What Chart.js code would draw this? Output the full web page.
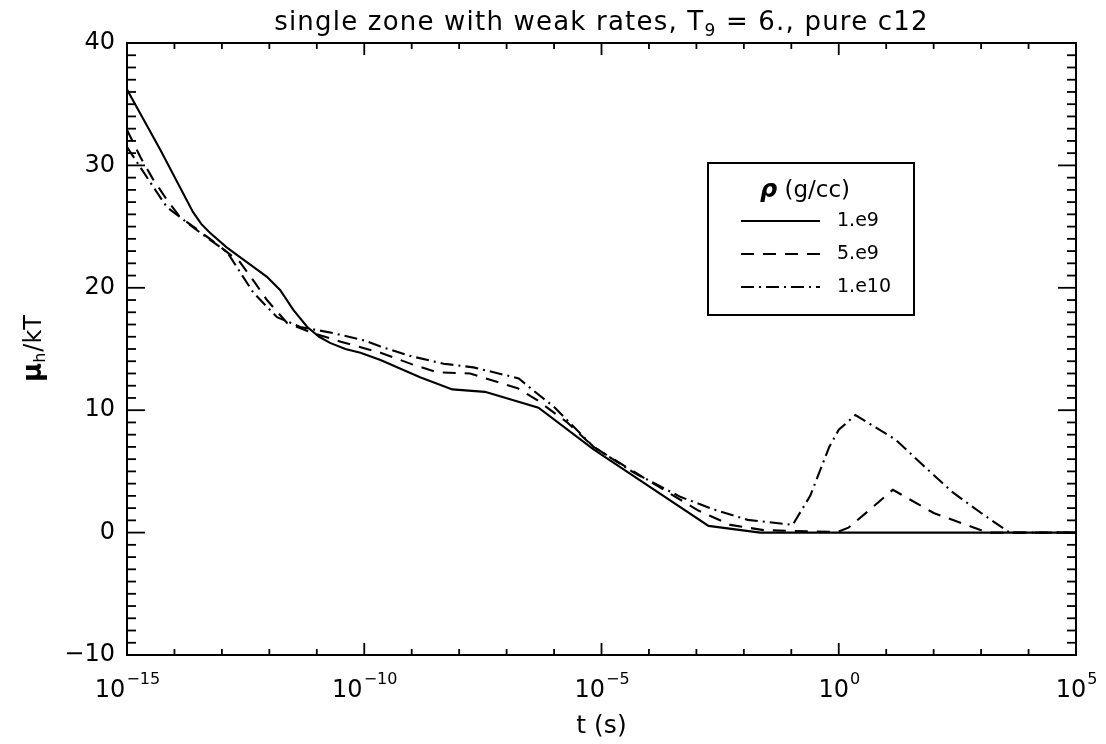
<!DOCTYPE html>
<html>
<head>
<meta charset="utf-8">
<script src="https://cdn.jsdelivr.net/npm/chart.js"></script>
<style>
  html, body { margin: 0; padding: 0; background: #fff; }
</style>
</head>
<body>
<canvas id="myChart" width="1106" height="744"></canvas>
<script>
// values: time (s) and mu_h/kT for each density
const tSolid = [1e-15, 5e-15, 2.45e-14, 3.7e-14, 5.6e-14, 1.26e-13, 2.4e-13, 5e-13, 8.9e-13, 1.7e-12, 3.2e-12, 6.3e-12, 1.12e-11, 1.9e-11, 4e-11, 8.3e-11, 2.2e-10, 1.5e-9, 7.2e-9, 3.5e-8, 4.7e-7, 6.8e-6, 1.8e-3, 2.2e-2, 1e5]
const muSolid = [36.2, 31.3, 26.2, 25.2, 24.5, 23.3, 22.5, 21.6, 20.9, 19.8, 18.2, 16.8, 16.0, 15.5, 15.0, 14.7, 14.1, 12.7, 11.7, 11.5, 10.2, 6.8, 0.55, 0.0, 0.0]

const tDashed = [1e-15, 1.9e-15, 3.5e-15, 6.9e-15, 1.3e-14, 5.6e-14, 2.4e-13, 5e-13, 8.9e-13, 2.4e-12, 8.3e-12, 3.2e-11, 2.2e-10, 1.1e-9, 3.5e-9, 1.7e-8, 1.7e-7, 4.5e-7, 1.9e-6, 6.8e-6, 9.3e-5, 1.1e-3, 5.2e-3, 2.6e-2, 0.95, 1.6, 4.3, 13.8, 100, 1000, 1600, 1e5]
const muDashed = [32.9, 30.7, 28.9, 27.2, 25.8, 24.0, 22.1, 20.4, 19.0, 17.1, 16.3, 15.6, 14.7, 13.7, 13.1, 13.0, 11.8, 10.8, 9.0, 7.0, 4.3, 1.8, 0.63, 0.2, 0.05, 0.4, 1.8, 3.5, 1.6, 0.2, 0.0, 0.0]

const tDashDot = [1e-15, 3.5e-15, 6.9e-15, 3.5e-14, 1.3e-13, 4.6e-13, 1.45e-12, 4.5e-12, 2.2e-11, 1e-10, 2.2e-10, 1e-9, 4.7e-9, 2e-8, 1.8e-7, 3.7e-7, 9.8e-7, 6.8e-6, 4.8e-5, 4.7e-4, 2.3e-3, 1.2e-2, 0.107, 0.25, 0.63, 1.0, 2.24, 15.8, 56, 250, 1000, 4000, 1e5]
const muDashDot = [31.5, 28.3, 26.6, 24.5, 22.9, 19.6, 17.6, 16.8, 16.3, 15.7, 15.2, 14.4, 13.8, 13.5, 12.6, 11.6, 10.3, 7.0, 4.9, 2.9, 1.9, 1.04, 0.63, 3.0, 7.0, 8.4, 9.6, 7.6, 5.6, 3.3, 1.6, 0.0, 0.0]

const seriesLabels = ['1.e9', '5.e9', '1.e10']
const seriesDash = [[], [13, 9], [13, 5, 2, 5]]

const yTicks = [-10, 0, 10, 20, 30, 40]
const xMajorExp = [-15, -10, -5, 0, 5]

const FONT = "'DejaVu Sans', sans-serif"

const toPoints = (ts, ys) => ts.map((t, i) => ({x: t, y: ys[i]}))

const line = (c, x1, y1, x2, y2) => {
    c.beginPath()
    c.moveTo(x1, y1)
    c.lineTo(x2, y2)
    c.stroke()
}

// frame, inward ticks on all four sides, exponent labels, title and legend
const framePlugin = {
    id: 'frame',
    afterDraw(chart) {
        const c = chart.ctx
        const a = chart.chartArea
        const xs = chart.scales.x
        const ys = chart.scales.y
        c.save()
        c.strokeStyle = '#000'
        c.fillStyle = '#000'
        c.lineWidth = 2
        c.setLineDash([])
        c.strokeRect(a.left, a.top, a.right - a.left, a.bottom - a.top)

        c.lineWidth = 1.8
        for (let e = -15; e <= 5; e++) {
            const px = xs.getPixelForValue(Math.pow(10, e))
            const len = xMajorExp.includes(e) ? 12 : 6
            line(c, px, a.bottom, px, a.bottom - len)
            line(c, px, a.top, px, a.top + len)
        }
        for (let v = -10; v <= 40; v++) {
            const py = ys.getPixelForValue(v)
            const len = yTicks.includes(v) ? 18 : 9
            line(c, a.left, py, a.left + len, py)
            line(c, a.right, py, a.right - len, py)
        }

        // x labels 10^n
        c.textBaseline = 'alphabetic'
        c.textAlign = 'left'
        xMajorExp.forEach(e => {
            const px = xs.getPixelForValue(Math.pow(10, e))
            const sup = String(e).replace('-', '\u2212')
            c.font = '24px ' + FONT
            const w1 = c.measureText('10').width
            c.font = '16px ' + FONT
            const w2 = c.measureText(sup).width
            const x0 = px - (w1 + w2) / 2
            c.font = '24px ' + FONT
            c.fillText('10', x0, 697)
            c.font = '16px ' + FONT
            c.fillText(sup, x0 + w1 + 1, 684)
        })

        // title with subscript
        c.letterSpacing = '1.2px'
        const t1 = 'single zone with weak rates, T'
        const t2 = '9'
        const t3 = ' = 6., pure c12'
        c.font = '26px ' + FONT
        const w1 = c.measureText(t1).width
        const w3 = c.measureText(t3).width
        c.font = '17px ' + FONT
        const w2 = c.measureText(t2).width
        let tx = (a.left + a.right) / 2 - (w1 + w2 + w3) / 2
        c.font = '26px ' + FONT
        c.fillText(t1, tx, 30)
        c.font = '17px ' + FONT
        c.fillText(t2, tx + w1, 36)
        c.font = '26px ' + FONT
        c.fillText(t3, tx + w1 + w2, 30)
        c.letterSpacing = '0px'

        // y title: mu_h/kT rotated
        c.save()
        c.translate(41, (a.top + a.bottom) / 2)
        c.rotate(-Math.PI / 2)
        c.font = 'bold 26px ' + FONT
        const m1 = c.measureText('\u03bc').width
        c.font = '16px ' + FONT
        const m2 = c.measureText('h').width
        c.font = '24px ' + FONT
        const m3 = c.measureText('/kT').width
        let yx = -(m1 + m2 + m3) / 2
        c.font = 'bold 26px ' + FONT
        c.fillText('\u03bc', yx, 0)
        c.font = '16px ' + FONT
        c.fillText('h', yx + m1, 4)
        c.font = '24px ' + FONT
        c.fillText('/kT', yx + m1 + m2 + 1, 0)
        c.restore()

        // legend box
        c.lineWidth = 2
        c.strokeRect(708, 163, 206, 152)
        c.font = 'bold italic 24px ' + FONT
        const r1 = c.measureText('\u03c1').width
        c.font = '23px ' + FONT
        const r2 = c.measureText(' (g/cc)').width
        let lx = 805 - (r1 + r2) / 2
        c.font = 'bold italic 24px ' + FONT
        c.fillText('\u03c1', lx, 197)
        c.font = '23px ' + FONT
        c.fillText(' (g/cc)', lx + r1, 197)
        c.font = '19px ' + FONT
        chart.data.datasets.forEach((ds, i) => {
            const ly = 221 + i * 33
            c.lineWidth = 2
            c.setLineDash(ds.borderDash)
            line(c, 741, ly, 820, ly)
            c.setLineDash([])
            c.textBaseline = 'middle'
            c.fillText(ds.label, 837, ly)
        })
        c.restore()
    }
}

const makeSet = (i, ts, ys) => ({
    label: seriesLabels[i],
    data: toPoints(ts, ys),
    borderColor: '#000',
    borderWidth: 2.1,
    borderDash: seriesDash[i],
    pointRadius: 0,
    fill: false,
    tension: 0
})

const chart = new Chart(document.getElementById('myChart'), {
    type: 'line',
    data: {
        datasets: [
            makeSet(0, tSolid, muSolid),
            makeSet(1, tDashed, muDashed),
            makeSet(2, tDashDot, muDashDot)
        ]
    },
    options: {
        responsive: false,
        animation: false,
        layout: {padding: {top: 43, right: 30, left: 0, bottom: 0}},
        plugins: {
            legend: {display: false},
            tooltip: {enabled: false},
            title: {display: false}
        },
        scales: {
            x: {
                type: 'logarithmic',
                min: 1e-15,
                max: 1e5,
                grid: {display: false, drawTicks: false},
                border: {display: false},
                ticks: {display: false},
                title: {display: true, text: 't (s)', color: '#000', font: {family: FONT, size: 25}, padding: {top: 0, bottom: 3}},
                afterFit: s => { s.height = 89 }
            },
            y: {
                min: -10,
                max: 40,
                grid: {display: false, drawTicks: false},
                border: {display: false},
                afterBuildTicks: s => { s.ticks = yTicks.map(v => ({value: v})) },
                ticks: {
                    color: '#000',
                    font: {family: FONT, size: 24},
                    padding: 12,
                    callback: v => String(v).replace('-', '\u2212')
                },
                afterFit: s => { s.width = 127 }
            }
        }
    },
    plugins: [framePlugin]
})
</script>
</body>
</html>
